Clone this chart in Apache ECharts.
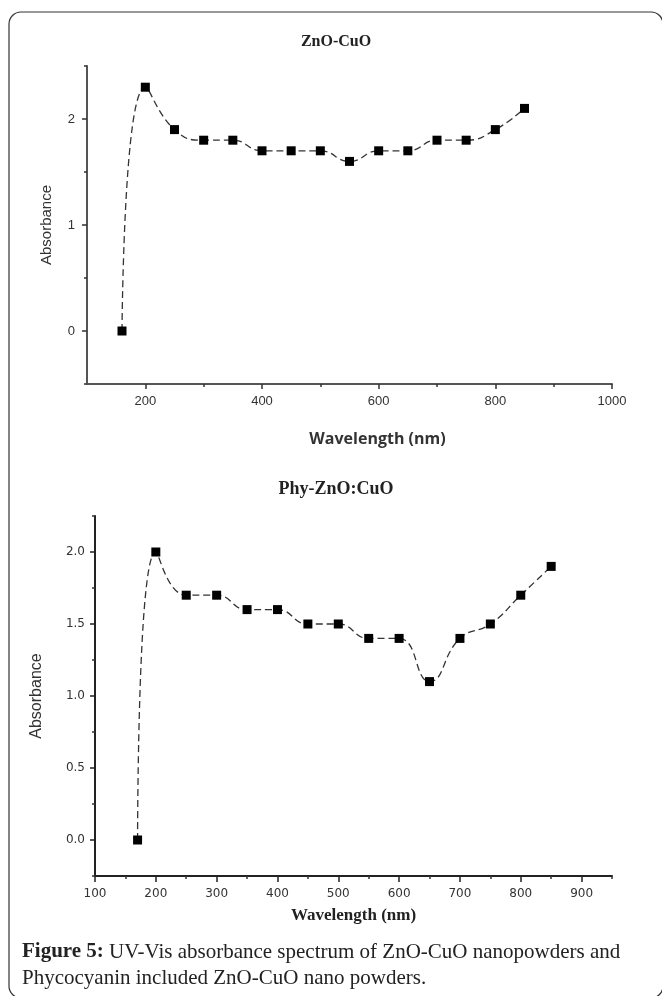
<!DOCTYPE html>
<html>
<head>
<meta charset="utf-8">
<script src="https://cdn.jsdelivr.net/npm/echarts@6/dist/echarts.min.js"></script>
<style>
  html, body { margin: 0; padding: 0; background: #fff; }
  #chart { width: 662px; height: 996px; }
</style>
</head>
<body>
<div id="chart"></div>
<script>
// top panel: ZnO-CuO
const topWavelength = [160, 200, 250, 300, 350, 400, 450, 500, 550, 600, 650, 700, 750, 800, 850]
const topAbsorbance = [0, 2.3, 1.9, 1.8, 1.8, 1.7, 1.7, 1.7, 1.6, 1.7, 1.7, 1.8, 1.8, 1.9, 2.1]
const topXLabels = [200, 400, 600, 800, 1000]
const topXMinor = [300, 500, 700, 900]
const topYLabels = [0, 1, 2]
const topYMinor = [-0.5, 0.5, 1.5, 2.5]

// bottom panel: Phy-ZnO:CuO
const botWavelength = [170, 200, 250, 300, 350, 400, 450, 500, 550, 600, 650, 700, 750, 800, 850]
const botAbsorbance = [0, 2.0, 1.7, 1.7, 1.6, 1.6, 1.5, 1.5, 1.4, 1.4, 1.1, 1.4, 1.5, 1.7, 1.9]
const botXLabels = [100, 200, 300, 400, 500, 600, 700, 800, 900]
const botXMinor = [150, 250, 350, 450, 550, 650, 750, 850, 950]
const botYLabels = [0, 0.5, 1, 1.5, 2]
const botYMinor = [-0.25, 0.25, 0.75, 1.25, 1.75, 2.25]

const chart = echarts.init(document.getElementById('chart'))

const pairs = (xs, ys) => xs.map((x, i) => [x, ys[i]])

// overlay axis that only draws the small in-between ticks
const minorAxis = (dim, grid, min, max, ticks, len) => ({
  type: 'value',
  gridIndex: grid,
  min: min,
  max: max,
  position: dim === 'x' ? 'bottom' : 'left',
  axisLine: { show: false, onZero: false },
  splitLine: { show: false },
  axisLabel: { show: false },
  axisTick: { show: true, customValues: ticks, length: len, lineStyle: { color: '#333', width: 1.5 } }
})

const option = {
  backgroundColor: '#fff',
  animation: false,
  title: [
    {
      text: 'ZnO-CuO',
      left: 331, top: 29, textAlign: 'center',
      textStyle: { fontFamily: 'Liberation Serif', fontWeight: 'bold', fontSize: 16, color: '#222' }
    },
    {
      text: 'Phy-ZnO:CuO',
      left: 331, top: 475, textAlign: 'center',
      textStyle: { fontFamily: 'Liberation Serif', fontWeight: 'bold', fontSize: 18, color: '#222' }
    }
  ],
  grid: [
    { left: 87, top: 66, width: 525, height: 318 },
    { left: 95, top: 516, width: 517, height: 360 }
  ],
  xAxis: [
    {
      type: 'value', gridIndex: 0, min: 100, max: 1000,
      name: 'Wavelength (nm)', nameLocation: 'middle', nameGap: 47,
      nameTextStyle: { fontFamily: 'Open Sans', fontWeight: 'bold', fontSize: 16, color: '#333', padding: [0, 0, 0, 56] },
      axisLine: { onZero: false, lineStyle: { color: '#555', width: 2 } },
      axisTick: { customValues: topXLabels, length: 5, lineStyle: { color: '#333', width: 1.5 } },
      axisLabel: {
        customValues: topXLabels, margin: 11, fontFamily: 'Liberation Sans', fontSize: 13, color: '#333',
        formatter: (v) => String(v)
      },
      splitLine: { show: false }
    },
    minorAxis('x', 0, 100, 1000, topXMinor, 3),
    {
      type: 'value', gridIndex: 1, min: 100, max: 950,
      name: 'Wavelength (nm)', nameLocation: 'middle', nameGap: 31,
      nameTextStyle: { fontFamily: 'Liberation Serif', fontWeight: 'bold', fontSize: 17, color: '#222' },
      axisLine: { onZero: false, lineStyle: { color: '#222', width: 2 } },
      axisTick: { customValues: botXLabels, length: 6, lineStyle: { color: '#222', width: 1.5 } },
      axisLabel: {
        customValues: botXLabels, margin: 12, fontFamily: 'DejaVu Sans', fontSize: 12, color: '#333',
        formatter: (v) => String(v)
      },
      splitLine: { show: false }
    },
    minorAxis('x', 1, 100, 950, botXMinor, 3)
  ],
  yAxis: [
    {
      type: 'value', gridIndex: 0, min: -0.5, max: 2.5,
      name: 'Absorbance', nameLocation: 'middle', nameGap: 33, nameRotate: 90,
      nameTextStyle: { fontFamily: 'Liberation Sans', fontSize: 15, color: '#333' },
      axisLine: { onZero: false, lineStyle: { color: '#555', width: 2 } },
      axisTick: { customValues: topYLabels, length: 5, lineStyle: { color: '#333', width: 1.5 } },
      axisLabel: { customValues: topYLabels, margin: 12, fontFamily: 'Liberation Sans', fontSize: 13, color: '#333' },
      splitLine: { show: false }
    },
    minorAxis('y', 0, -0.5, 2.5, topYMinor, 3),
    {
      type: 'value', gridIndex: 1, min: -0.25, max: 2.25,
      name: 'Absorbance', nameLocation: 'middle', nameGap: 50, nameRotate: 90,
      nameTextStyle: { fontFamily: 'Liberation Sans', fontSize: 16, color: '#333' },
      axisLine: { onZero: false, lineStyle: { color: '#222', width: 2 } },
      axisTick: { customValues: botYLabels, length: 5, lineStyle: { color: '#222', width: 1.5 } },
      axisLabel: {
        customValues: botYLabels, margin: 10, fontFamily: 'DejaVu Sans', fontSize: 12, color: '#333',
        formatter: (v) => v.toFixed(1)
      },
      splitLine: { show: false }
    },
    minorAxis('y', 1, -0.25, 2.25, botYMinor, 3)
  ],
  series: [
    {
      type: 'line', xAxisIndex: 0, yAxisIndex: 0,
      data: pairs(topWavelength, topAbsorbance),
      smooth: 0.5,
      symbol: 'rect', symbolSize: 9,
      itemStyle: { color: '#000' },
      lineStyle: { color: '#333', width: 1.3, type: [7, 4] }
    },
    {
      type: 'line', xAxisIndex: 2, yAxisIndex: 2,
      data: pairs(botWavelength, botAbsorbance),
      smooth: 0.5,
      symbol: 'rect', symbolSize: 9,
      itemStyle: { color: '#000' },
      lineStyle: { color: '#333', width: 1.3, type: [7, 4] }
    }
  ],
  graphic: [
    {
      type: 'rect', silent: true,
      shape: { x: 9, y: 12, width: 654, height: 986, r: 12 },
      style: { fill: 'none', stroke: '#333', lineWidth: 1.2 }
    },
    {
      type: 'text', left: 22, top: 939, silent: true,
      style: {
        text: '{b|Figure 5:} UV-Vis absorbance spectrum of ZnO-CuO nanopowders and\nPhycocyanin included ZnO-CuO nano powders.',
        font: '21px "Liberation Serif"',
        fill: '#222',
        lineHeight: 26,
        rich: {
          b: { fontFamily: 'Liberation Serif', fontWeight: 'bold', fontSize: 21, fill: '#222', lineHeight: 26 }
        }
      }
    }
  ]
}

chart.setOption(option)
</script>
</body>
</html>
